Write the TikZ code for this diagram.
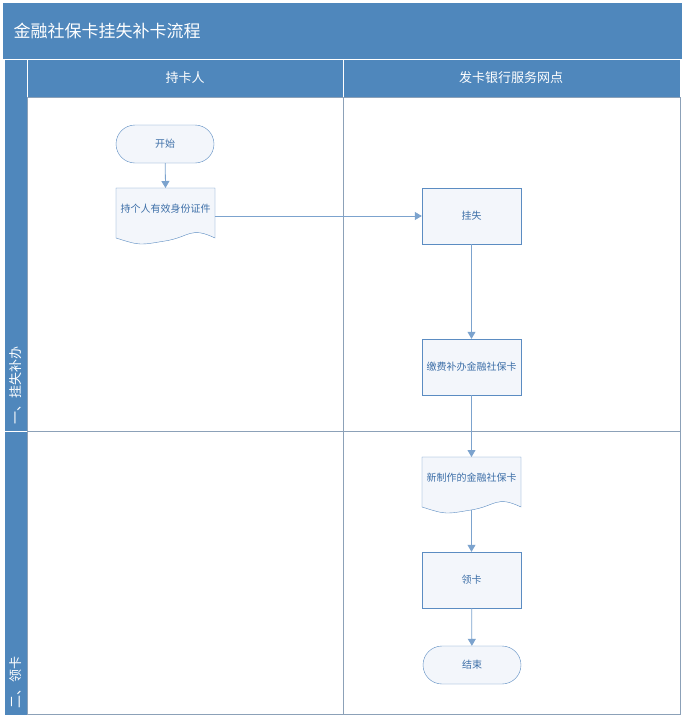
\documentclass[tikz,border=0pt]{standalone}
\usepackage{fontspec}
\setmainfont{Noto Sans CJK SC}
\usetikzlibrary{arrows.meta}
\definecolor{bar}{HTML}{4F87BC}
\definecolor{edge}{HTML}{5B8CC2}
\definecolor{txt}{HTML}{3D6FA8}
\definecolor{fillA}{HTML}{F3F6FB}
\tikzset{
 boxst/.style={draw=edge,fill=fillA,minimum width=99pt,minimum height=56pt,inner sep=1pt,text width=92pt,align=center,font=\fontsize{10}{13}\selectfont,text=txt},
 termst/.style={draw=edge,fill=fillA,rounded corners=19pt,minimum width=98pt,minimum height=38pt,font=\fontsize{10}{13}\selectfont,text=txt},
 doctxt/.style={text width=92pt,align=center,font=\fontsize{10}{13}\selectfont,text=txt,inner sep=1pt},
 conn/.style={draw=edge!80,line width=0.8pt,-{Triangle[length=7pt,width=8pt]}},
 lanetxt/.style={text=white,font=\fontsize{13}{15}\selectfont}
}
\newcommand{\docshape}[2]{%
 \draw[edge,fill=fillA] (#1,#2) -- ++(99,0) -- ++(0,50) .. controls ++(-25,-12) and ++(25,-4) .. ++(-50,3) .. controls ++(-25,4) and ++(25,8) .. ++(-49,-3) -- cycle;
}
\begin{document}
\begin{tikzpicture}[x=1pt,y=-1pt]
\useasboundingbox (0,0) rectangle (687,723);
\fill[white] (0,0) rectangle (687,723);
% title
\fill[bar] (3,3) rectangle (682,59);
\node[anchor=west,text=white,font=\fontsize{17}{19}\selectfont] (title) at (10,31) {金融社保卡挂失补卡流程};
% left strip and headers
\fill[bar] (5,60) rectangle (27,715);
\fill[bar] (27,60) rectangle (680,97);
\draw[white,line width=1pt] (27,60) -- (27,715);
\draw[white,line width=1pt] (343,60) -- (343,97);
\node[lanetxt] (h1) at (185,78) {持卡人};
\node[lanetxt] (h2) at (511,78) {发卡银行服务网点};
% lane frame
\draw[edge!70!black!60,line width=0.8pt] (27,97) rectangle (680,714);
\draw[edge!70!black!60,line width=0.8pt] (343,97) -- (343,714);
\draw[edge!70!black!60,line width=0.8pt] (5,431) -- (680,431);
\draw[white,line width=1pt] (5,431) -- (27,431);
\node[lanetxt,rotate=90,anchor=west] (r1) at (16,428) {一、挂失补办};
\node[lanetxt,rotate=90,anchor=west] (r2) at (16,712) {二、领卡};
% nodes
\node[termst] (start) at (165,144) {开始};
\docshape{116}{188}
\node[doctxt] (doc1) at (165.5,209) {持个人有效身份证件};
\node[boxst] (loss) at (471.5,216) {挂失};
\node[boxst] (pay) at (471.5,367) {缴费补办金融社保卡};
\docshape{422}{457}
\node[doctxt] (doc2) at (471.5,478) {新制作的金融社保卡};
\node[boxst] (get) at (471.5,580) {领卡};
\node[termst] (end) at (472,665) {结束};
% connectors
\draw[conn] (start) -- (165.5,188);
\draw[conn] (214.5,216) -- (loss.west);
\draw[conn] (loss) -- (pay);
\draw[conn] (pay) -- (471.5,457);
\draw[conn] (471.5,510) -- (get);
\draw[conn] (get) -- (end);
\end{tikzpicture}
\end{document}
